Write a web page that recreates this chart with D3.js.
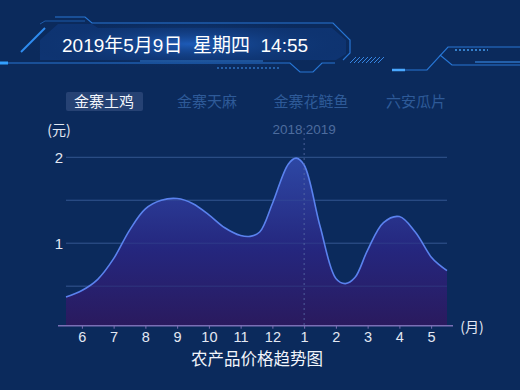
<!DOCTYPE html>
<html><head><meta charset="utf-8">
<script src="https://cdn.jsdelivr.net/npm/d3@7/dist/d3.min.js"></script>
<style>
html,body{margin:0;padding:0;background:#0b2a5c;}
svg{display:block;}
</style></head>
<body>
<script>
// ---- data ----
const headerText = "2019年5月9日  星期四  14:55";
const tabs = ["金寨土鸡", "金寨天麻", "金寨花鲢鱼", "六安瓜片"];
const monthLabels = ["6","7","8","9","10","11","12","1","2","3","4","5"];
const yTicks = [0.5, 1, 1.5, 2];
const yLabelTicks = [1, 2];
// position along month axis (0 = June) and price
const pricePos = [-0.5, 0, 0.5, 1, 1.5, 2, 2.5, 3, 3.5, 4, 4.5, 5, 5.3, 5.6, 6, 6.5, 6.75, 7, 7.5, 8, 8.3, 8.6, 9, 9.5, 10, 10.5, 11, 11.25, 11.5];
const prices   = [0.375, 0.45, 0.58, 0.82, 1.15, 1.40, 1.50, 1.52, 1.46, 1.33, 1.18, 1.09, 1.08, 1.13, 1.46, 1.92, 1.99, 1.91, 1.2, 0.59, 0.53, 0.6, 0.92, 1.24, 1.31, 1.13, 0.84, 0.75, 0.68];
const yearSplit = 7; // position of January
const yearLabels = ["2018", "2019"];
const yUnit = "(元)", xUnit = "(月)", title = "农产品价格趋势图";

const W = 520, H = 390;
const svg = d3.select("body").append("svg").attr("width", W).attr("height", H);
const defs = svg.append("defs");
svg.append("rect").attr("width", W).attr("height", H).attr("fill", "#0b2a5c");

// ---- header decoration ----
const glow = defs.append("radialGradient").attr("id","glow").attr("cx","0.5").attr("cy","0.5").attr("r","0.5");
glow.append("stop").attr("offset","0%").attr("stop-color","#1f5fbf").attr("stop-opacity",0.9);
glow.append("stop").attr("offset","100%").attr("stop-color","#0b2a5c").attr("stop-opacity",0);
const hdr = svg.append("g");
hdr.append("path").attr("d","M40,40 L58,24 L92,24 L98,28 L332,28 L346,40 L346,54 L336,60 L40,60 Z")
  .attr("fill","#123d85").attr("opacity",0.55);
hdr.append("ellipse").attr("cx",190).attr("cy",44).attr("rx",170).attr("ry",26).attr("fill","url(#glow)");
const stroke = (d,c,w,o)=>hdr.append("path").attr("d",d).attr("fill","none").attr("stroke",c).attr("stroke-width",w).attr("opacity",o||1);
stroke("M55,17 L85,17 L92,23 L333,23 L350,40 L350,53 L343,60","#2a7de0",1.2,0.9);
stroke("M40,24 L45,21 L85,21","#2a7de0",1,0.6);
stroke("M21,52 L45,28","#2f8cf0",2);
stroke("M0,63 L8,63","#33a0ff",3);
stroke("M8,63 L290,63 L300,72 L313,72 L322,63 L335,63","#2a7de0",1.2,0.9);
stroke("M140,61 L263,61","#3a8ef0",1,0.8);
stroke("M217,68 L280,68","#3a8ef0",1.5,0.7).attr("stroke-dasharray","2,2");
for (let i=0;i<8;i++) stroke(`M${350+i*4},63 L${356+i*4},57`,"#3a8ef0",1,0.9);
stroke("M392,70 L427,70 L448,47 L520,47","#2a7de0",1.2,0.9);
stroke("M392,70 L405,70","#4aa8ff",2.5);
stroke("M440,55 L452,65 L520,65","#2a7de0",1.2,0.9);
stroke("M475,62 L520,62","#3a8ef0",1.5,0.7);
stroke("M455,50 L488,50","#4aa8ff",1.5,0.9).attr("stroke-dasharray","2,2");
hdr.append("text").attr("x",62).attr("y",52).attr("fill","#ffffff")
  .attr("font-family","'Liberation Sans','Noto Sans CJK SC',sans-serif").attr("font-size",19)
  .attr("xml:space","preserve").style("white-space","pre").text(headerText);

// ---- tabs ----
const tabX = [104, 207, 311, 416];
svg.append("rect").attr("x",66).attr("y",92).attr("width",77).attr("height",19).attr("rx",2).attr("fill","#2b4778").attr("opacity",0.85);
svg.selectAll(".tab").data(tabs).join("text")
  .attr("x",(d,i)=>tabX[i]).attr("y",106.5).attr("text-anchor","middle")
  .attr("font-family","'Noto Sans CJK SC',sans-serif").attr("font-size",15)
  .attr("fill",(d,i)=> i===0 ? "#f2f5fb" : "#2e5a98").text(d=>d);

// ---- chart ----
const x = d3.scaleLinear().domain([-0.5, 11.5]).range([66, 447]);
const yMin = 0.04;
const y = d3.scaleLinear().domain([yMin, 2]).range([325.7, 157.3]);

// grid
svg.append("g").selectAll("line").data(yTicks).join("line")
  .attr("x1",x(-0.5)).attr("x2",x(11.5)).attr("y1",d=>y(d)).attr("y2",d=>y(d))
  .attr("stroke","#2b4f85").attr("stroke-width",1);

// area
const grad = defs.append("linearGradient").attr("id","areaGrad").attr("x1",0).attr("y1",0).attr("x2",0).attr("y2",1);
grad.append("stop").attr("offset","0%").attr("stop-color","#2f49a8").attr("stop-opacity",0.95);
grad.append("stop").attr("offset","55%").attr("stop-color","#26267f").attr("stop-opacity",0.95);
grad.append("stop").attr("offset","100%").attr("stop-color","#2a1a5e").attr("stop-opacity",1);
const pts = pricePos.map((p,i)=>[p, prices[i]]);
const curve = d3.curveCatmullRom.alpha(0.5);
const area = d3.area().x(d=>x(d[0])).y0(y(yMin)).y1(d=>y(d[1])).curve(curve);
const line = d3.line().x(d=>x(d[0])).y(d=>y(d[1])).curve(curve);
svg.append("path").datum(pts).attr("d",area).attr("fill","url(#areaGrad)");
// gridlines faintly over area
svg.append("g").selectAll("line").data(yTicks).join("line")
  .attr("x1",x(-0.5)).attr("x2",x(11.5)).attr("y1",d=>y(d)).attr("y2",d=>y(d))
  .attr("stroke","#3d5a9a").attr("stroke-width",1).attr("opacity",0.35);
svg.append("path").datum(pts).attr("d",line).attr("fill","none").attr("stroke","#5a82ee").attr("stroke-width",1.6);

// year split
svg.append("line").attr("x1",x(yearSplit)).attr("x2",x(yearSplit)).attr("y1",128).attr("y2",y(yMin))
  .attr("stroke","#5a6fa8").attr("stroke-width",1).attr("stroke-dasharray","2,3").attr("opacity",0.8);
svg.append("text").attr("x",x(yearSplit)-1.5).attr("y",134).attr("text-anchor","end")
  .attr("font-family","'Liberation Sans',sans-serif").attr("font-size",13.5).attr("fill","#4d6c9e").text(yearLabels[0]);
svg.append("text").attr("x",x(yearSplit)+1.5).attr("y",134).attr("text-anchor","start")
  .attr("font-family","'Liberation Sans',sans-serif").attr("font-size",13.5).attr("fill","#4d6c9e").text(yearLabels[1]);

// x axis
const xAxis = d3.axisBottom(x).tickValues(d3.range(monthLabels.length)).tickFormat(i=>monthLabels[i]).tickSize(3).tickSizeOuter(0);
const gx = svg.append("g").attr("transform",`translate(0,${y(yMin)})`).call(xAxis);
gx.select(".domain").remove();
gx.append("line").attr("x1",58).attr("x2",453).attr("y1",0).attr("y2",0).attr("stroke","#7a6fb5").attr("stroke-width",1.5);
gx.selectAll(".tick line").attr("stroke","#7a6fb5");
gx.selectAll(".tick text").attr("fill","#e3e8f3").attr("font-size",14.5)
  .attr("font-family","'Liberation Sans',sans-serif");

// y labels
const yAxis = d3.axisLeft(y).tickValues(yLabelTicks).tickFormat(d3.format("d")).tickSize(0);
const gy = svg.append("g").attr("transform","translate(66,0)").call(yAxis);
gy.select(".domain").remove();
gy.selectAll(".tick text").attr("fill","#e3e8f3").attr("font-size",15).attr("x",-3)
  .attr("font-family","'Liberation Sans',sans-serif");

// units and title
svg.append("text").attr("x",59).attr("y",135).attr("text-anchor","middle").attr("fill","#e3e8f3")
  .attr("font-family","'Noto Sans CJK SC',sans-serif").attr("font-size",14).text(yUnit);
svg.append("text").attr("x",472).attr("y",332).attr("text-anchor","middle").attr("fill","#e3e8f3")
  .attr("font-family","'Noto Sans CJK SC',sans-serif").attr("font-size",14).text(xUnit);
svg.append("text").attr("x",257).attr("y",365).attr("text-anchor","middle").attr("fill","#f2f5fb")
  .attr("font-family","'Noto Sans CJK SC',sans-serif").attr("font-size",16.5).text(title);
</script>
</body></html>
